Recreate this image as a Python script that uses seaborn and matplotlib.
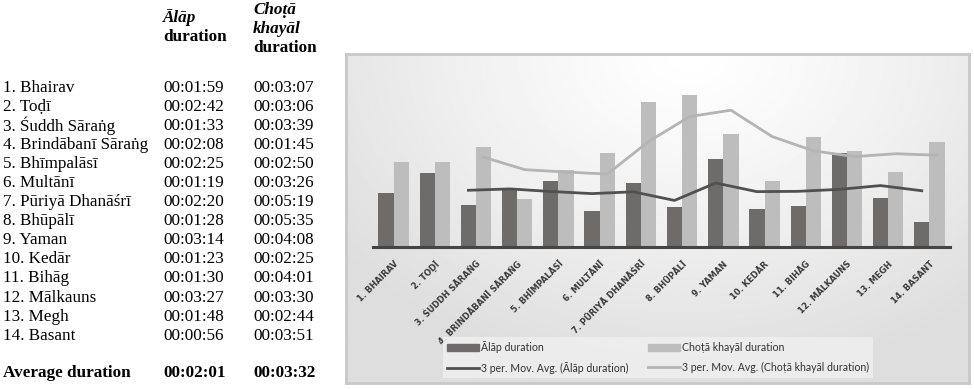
import numpy as np
import pandas as pd
import matplotlib
matplotlib.use('Agg')
import matplotlib.pyplot as plt
import seaborn as sns
from matplotlib.patches import Patch
from matplotlib.lines import Line2D

# ragas and durations (from the table)
ragas = ["Bhairav", "Toḍī", "Śuddh Sāraṅg", "Brindābanī Sāraṅg", "Bhīmpalāsī",
         "Multānī", "Pūriyā Dhanāśrī", "Bhūpālī", "Yaman", "Kedār", "Bihāg",
         "Mālkauns", "Megh", "Basant"]
alap_times = ["00:01:59", "00:02:42", "00:01:33", "00:02:08", "00:02:25", "00:01:19", "00:02:20",
              "00:01:28", "00:03:14", "00:01:23", "00:01:30", "00:03:27", "00:01:48", "00:00:56"]
chota_times = ["00:03:07", "00:03:06", "00:03:39", "00:01:45", "00:02:50", "00:03:26", "00:05:19",
               "00:05:35", "00:04:08", "00:02:25", "00:04:01", "00:03:30", "00:02:44", "00:03:51"]
avg_alap = "00:02:01"
avg_chota = "00:03:32"

labels = [f"{i+1}. {r}" for i, r in enumerate(ragas)]
tick_labels = [l.upper() for l in labels]

df = pd.DataFrame({'raga': labels,
                   'alap': pd.to_timedelta(alap_times).total_seconds(),
                   'chota': pd.to_timedelta(chota_times).total_seconds()})
df['alap_ma'] = df['alap'].rolling(3).mean()   # 3 per. moving average
df['chota_ma'] = df['chota'].rolling(3).mean()

long_df = df.melt(id_vars='raga', value_vars=['alap', 'chota'], var_name='series', value_name='sec')

DARK = '#6e6c6b'
LIGHT = '#bdbdbd'
DARK_LINE = '#505050'
LIGHT_LINE = '#b4b4b4'

W, H = 974, 389
fig = plt.figure(figsize=(W / 100, H / 100), dpi=100)

# ---- chart frame with gradient background
fx0, fy0, fx1, fy1 = 346, 54, 969, 383
bg = fig.add_axes([fx0 / W, 1 - fy1 / H, (fx1 - fx0) / W, (fy1 - fy0) / H], zorder=0)
yy, xx = np.mgrid[0:1:200j, 0:1:400j]
r = np.sqrt(((xx - 0.55) * 1.3) ** 2 + ((yy - 0.0) * 0.9) ** 2)
shade = 1 - 0.13 * np.clip(r / 0.9, 0, 1) ** 1.2
bg.imshow(shade, cmap='gray', vmin=0, vmax=1, aspect='auto', extent=[0, 1, 0, 1], origin='upper')
bg.set_xticks([])
bg.set_yticks([])
for s in bg.spines.values():
    s.set_color('#c8c8c8')
    s.set_linewidth(2)

# ---- bar chart axes
ax_left, ax_right, ax_bottom, ax_top = 373, 950, 247, 65
ax = fig.add_axes([ax_left / W, 1 - ax_bottom / H, (ax_right - ax_left) / W, (ax_bottom - ax_top) / H], zorder=1)
ax.patch.set_alpha(0)
sns.barplot(data=long_df, x='raga', y='sec', hue='series', palette=[DARK, LIGHT],
            width=0.74, gap=0.0, ax=ax, legend=False, saturation=1)

x = np.arange(len(labels))
off = 0.74 / 4
sns.lineplot(x=x - off, y=df['alap_ma'], color=DARK_LINE, lw=2, ax=ax)
sns.lineplot(x=x + off, y=df['chota_ma'], color=LIGHT_LINE, lw=2, ax=ax)

ax.set_ylim(0, 400)
ax.set_xlim(-0.5, len(labels) - 0.5)
ax.set_xlabel('')
ax.set_ylabel('')
ax.set_yticks([])
for s in ['top', 'right', 'left']:
    ax.spines[s].set_visible(False)
ax.spines['bottom'].set_color('#444444')
ax.spines['bottom'].set_linewidth(2.2)
ax.tick_params(axis='x', length=0, pad=9)
ax.set_xticks(x)
ax.set_xticklabels(tick_labels, rotation=45, ha='right', rotation_mode='anchor',
                   fontsize=6, fontweight='bold', color='#3a3a3a', family=['DejaVu Sans'])

handles = [Patch(color=DARK), Line2D([], [], color=DARK_LINE, lw=2),
           Patch(color=LIGHT), Line2D([], [], color=LIGHT_LINE, lw=2)]
names = ["Ālāp duration", "3 per. Mov. Avg. (Ālāp duration)",
         "Choṭā khayāl duration", "3 per. Mov. Avg. (Choṭā khayāl duration)"]
leg = fig.legend(handles, names, ncol=2, loc='lower left',
                 bbox_to_anchor=(443 / W, 1 - 378 / H, (873 - 443) / W, 40 / H), mode='expand',
                 frameon=True, fancybox=False, borderaxespad=0,
                 handlelength=3.0, handleheight=0.6, handletextpad=0.2, columnspacing=1.0,
                 labelspacing=0.8, prop={'family': ['Lato', 'DejaVu Sans'], 'size': 7.6})
leg.get_frame().set_facecolor('#f0f0f0')
leg.get_frame().set_edgecolor('none')
leg.get_frame().set_alpha(0.8)
for t in leg.get_texts():
    t.set_color('#333333')

# ---- table on the left
serif = ['Liberation Serif', 'DejaVu Serif']
tsize = 12.3
c0, c1, c2 = 3, 163, 253
fig.text(c1 / W, 1 - 18 / H, "Ālāp", fontsize=tsize, family=serif, weight='bold', style='italic', va='center')
fig.text(c1 / W, 1 - 37 / H, "duration", fontsize=tsize, family=serif, weight='bold', va='center')
fig.text(c2 / W, 1 - 10 / H, "Choṭā", fontsize=tsize, family=serif, weight='bold', style='italic', va='center')
fig.text(c2 / W, 1 - 29 / H, "khayāl", fontsize=tsize, family=serif, weight='bold', style='italic', va='center')
fig.text(c2 / W, 1 - 48 / H, "duration", fontsize=tsize, family=serif, weight='bold', va='center')

for i in range(len(labels)):
    y = 1 - (87.5 + 19.1 * i) / H
    fig.text(c0 / W, y, labels[i], fontsize=tsize, family=serif, va='center')
    fig.text(c1 / W, y, alap_times[i], fontsize=tsize, family=serif, va='center')
    fig.text(c2 / W, y, chota_times[i], fontsize=tsize, family=serif, va='center')

ya = 1 - 373 / H
fig.text(c0 / W, ya, "Average duration", fontsize=tsize, family=serif, weight='bold', va='center')
fig.text(c1 / W, ya, avg_alap, fontsize=tsize, family=serif, weight='bold', va='center')
fig.text(c2 / W, ya, avg_chota, fontsize=tsize, family=serif, weight='bold', va='center')

fig.savefig('out.png', dpi=100)
